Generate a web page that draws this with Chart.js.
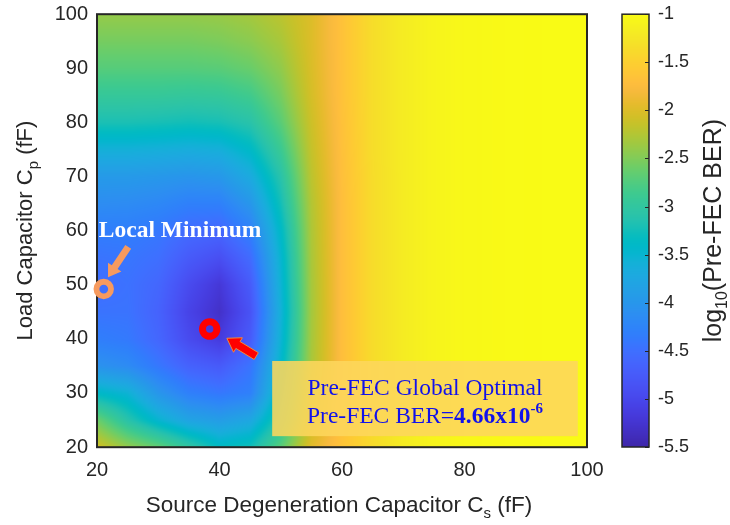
<!DOCTYPE html>
<html>
<head>
<meta charset="utf-8">
<script src="https://cdn.jsdelivr.net/npm/chart.js@4.4.0/dist/chart.umd.min.js"></script>
<style>
  html, body { margin: 0; padding: 0; background: #fff; }
</style>
</head>
<body>
<canvas id="ber" width="730" height="525"></canvas>
<script>
// sweep grid: source degeneration capacitor Cs (columns) and load capacitor Cp (rows, top row first)
const sourceCap = [20, 25, 30, 35, 40, 45, 50, 55, 60, 65, 70, 75, 80, 85, 90, 95, 100];
const loadCap = [100, 95, 90, 85, 80, 75, 70, 65, 60, 55, 50, 45, 40, 35, 30, 25, 20];

// log10(pre-FEC BER) for every (Cp, Cs) point
const log10Ber = [
  [-2.40, -2.40, -2.40, -2.40, -2.38, -2.32, -2.20, -2.00, -1.66, -1.35, -1.18, -1.08, -1.04, -1.02, -1.01, -1.00, -1.00],
  [-2.55, -2.55, -2.55, -2.55, -2.52, -2.45, -2.30, -2.00, -1.66, -1.35, -1.18, -1.08, -1.04, -1.02, -1.01, -1.00, -1.00],
  [-2.72, -2.72, -2.72, -2.72, -2.70, -2.62, -2.42, -2.02, -1.66, -1.35, -1.18, -1.08, -1.04, -1.02, -1.01, -1.00, -1.00],
  [-2.95, -2.95, -2.95, -2.97, -2.95, -2.85, -2.55, -2.05, -1.66, -1.35, -1.18, -1.08, -1.04, -1.02, -1.01, -1.00, -1.00],
  [-3.20, -3.20, -3.22, -3.25, -3.22, -3.10, -2.70, -2.10, -1.67, -1.35, -1.18, -1.08, -1.04, -1.02, -1.01, -1.00, -1.00],
  [-3.60, -3.60, -3.62, -3.65, -3.62, -3.40, -2.90, -2.15, -1.68, -1.35, -1.18, -1.08, -1.04, -1.02, -1.01, -1.00, -1.00],
  [-3.95, -3.95, -3.98, -4.02, -3.98, -3.70, -3.10, -2.20, -1.69, -1.36, -1.18, -1.08, -1.04, -1.02, -1.01, -1.00, -1.00],
  [-4.13, -4.15, -4.20, -4.30, -4.30, -4.00, -3.25, -2.25, -1.70, -1.36, -1.18, -1.08, -1.04, -1.02, -1.01, -1.00, -1.00],
  [-4.33, -4.33, -4.40, -4.55, -4.60, -4.30, -3.40, -2.28, -1.70, -1.36, -1.18, -1.08, -1.04, -1.02, -1.01, -1.00, -1.00],
  [-4.45, -4.42, -4.50, -4.75, -4.90, -4.55, -3.50, -2.30, -1.70, -1.36, -1.18, -1.08, -1.04, -1.02, -1.01, -1.00, -1.00],
  [-4.52, -4.47, -4.60, -4.95, -5.20, -4.75, -3.55, -2.32, -1.70, -1.36, -1.18, -1.08, -1.04, -1.02, -1.01, -1.00, -1.00],
  [-4.45, -4.45, -4.65, -5.05, -5.30, -4.85, -3.60, -2.33, -1.70, -1.36, -1.18, -1.08, -1.04, -1.02, -1.01, -1.00, -1.00],
  [-4.32, -4.38, -4.60, -4.95, -5.15, -4.75, -3.55, -2.32, -1.70, -1.36, -1.18, -1.08, -1.04, -1.02, -1.01, -1.00, -1.00],
  [-4.05, -4.15, -4.40, -4.65, -4.75, -4.45, -3.45, -2.30, -1.70, -1.36, -1.18, -1.08, -1.04, -1.02, -1.01, -1.00, -1.00],
  [-3.40, -3.55, -4.00, -4.30, -4.40, -4.30, -3.30, -2.22, -1.69, -1.36, -1.18, -1.08, -1.04, -1.02, -1.01, -1.00, -1.00],
  [-2.60, -3.10, -3.50, -3.80, -3.90, -3.75, -3.10, -2.12, -1.67, -1.36, -1.18, -1.08, -1.04, -1.02, -1.01, -1.00, -1.00],
  [-2.07, -2.40, -2.65, -3.00, -3.35, -3.25, -2.70, -1.95, -1.63, -1.38, -1.18, -1.08, -1.04, -1.02, -1.01, -1.00, -1.00]
];

const xTicks = [20, 40, 60, 80, 100];
const yTicks = [20, 30, 40, 50, 60, 70, 80, 90, 100];
const cbTicks = [-5.5, -5, -4.5, -4, -3.5, -3, -2.5, -2, -1.5, -1];

// marked operating points
const globalOpt = { cs: 38.4, cp: 41.8, ber: 4.66e-6 };
const localMin = { cs: 21.1, cp: 49.2 };

// annotation anchors, in fF
const localLabelAt = { cs: 20.3, cp: 58.8 };
const orangeArrow = { from: { cs: 25.1, cp: 57.0 }, to: { cs: 21.8, cp: 51.4 } };
const redArrow = { from: { cs: 46.0, cp: 36.8 }, to: { cs: 41.2, cp: 40.1 } };
const noteBox = { cs0: 48.6, cs1: 98.5, cp0: 22.0, cp1: 35.9 };

// MATLAB parula, 64 steps
const PARULA = [
  [0.2422,0.1504,0.6603],[0.2504,0.1650,0.7076],[0.2578,0.1818,0.7511],[0.2647,0.1978,0.7952],
  [0.2706,0.2147,0.8364],[0.2751,0.2342,0.8710],[0.2783,0.2559,0.8991],[0.2803,0.2782,0.9221],
  [0.2813,0.3006,0.9414],[0.2810,0.3228,0.9579],[0.2795,0.3447,0.9717],[0.2760,0.3667,0.9829],
  [0.2699,0.3892,0.9906],[0.2602,0.4123,0.9952],[0.2440,0.4358,0.9988],[0.2206,0.4603,0.9973],
  [0.1963,0.4847,0.9892],[0.1834,0.5074,0.9798],[0.1786,0.5289,0.9682],[0.1764,0.5499,0.9520],
  [0.1687,0.5703,0.9359],[0.1540,0.5902,0.9218],[0.1460,0.6091,0.9079],[0.1380,0.6276,0.8973],
  [0.1248,0.6459,0.8883],[0.1113,0.6635,0.8763],[0.0952,0.6798,0.8598],[0.0689,0.6948,0.8394],
  [0.0297,0.7082,0.8163],[0.0036,0.7203,0.7917],[0.0067,0.7312,0.7660],[0.0433,0.7411,0.7394],
  [0.0964,0.7500,0.7120],[0.1408,0.7584,0.6842],[0.1717,0.7670,0.6554],[0.1938,0.7758,0.6251],
  [0.2161,0.7843,0.5923],[0.2470,0.7918,0.5567],[0.2906,0.7973,0.5188],[0.3406,0.8008,0.4789],
  [0.3909,0.8029,0.4354],[0.4456,0.8024,0.3909],[0.5044,0.7993,0.3480],[0.5616,0.7942,0.3045],
  [0.6174,0.7876,0.2612],[0.6720,0.7793,0.2227],[0.7242,0.7698,0.1910],[0.7738,0.7598,0.1646],
  [0.8203,0.7498,0.1535],[0.8634,0.7406,0.1596],[0.9035,0.7330,0.1774],[0.9393,0.7288,0.2100],
  [0.9728,0.7298,0.2394],[0.9956,0.7434,0.2371],[0.9970,0.7659,0.2199],[0.9952,0.7893,0.2028],
  [0.9892,0.8136,0.1885],[0.9786,0.8386,0.1766],[0.9676,0.8639,0.1643],[0.9610,0.8890,0.1537],
  [0.9597,0.9135,0.1423],[0.9628,0.9373,0.1265],[0.9691,0.9606,0.1064],[0.9769,0.9839,0.0805]
];
const cbMin = cbTicks[0], cbMax = cbTicks[cbTicks.length - 1];

const SANS = '"Liberation Sans", Arial, sans-serif';
const SERIF = '"Liberation Serif", "Times New Roman", serif';
const INK = '#262626';

function parula(v) {
  let t = (v - cbMin) / (cbMax - cbMin);
  t = Math.min(1, Math.max(0, t)) * (PARULA.length - 1);
  const i = Math.min(Math.floor(t), PARULA.length - 2), f = t - i;
  const a = PARULA[i], b = PARULA[i + 1];
  return [0, 1, 2].map(k => Math.round(255 * (a[k] + (b[k] - a[k]) * f)));
}

// index + fraction of v inside a monotone axis array
function locate(arr, v) {
  const asc = arr[arr.length - 1] > arr[0];
  for (let i = 0; i < arr.length - 1; i++) {
    const lo = arr[i], hi = arr[i + 1];
    if ((asc && v <= hi) || (!asc && v >= hi)) {
      return [i, Math.min(1, Math.max(0, (v - lo) / (hi - lo)))];
    }
  }
  return [arr.length - 2, 1];
}

function berAt(cs, cp) {
  const [i, fx] = locate(sourceCap, cs);
  const [j, fy] = locate(loadCap, cp);
  const top = log10Ber[j][i] + (log10Ber[j][i + 1] - log10Ber[j][i]) * fx;
  const bot = log10Ber[j + 1][i] + (log10Ber[j + 1][i + 1] - log10Ber[j + 1][i]) * fx;
  return top + (bot - top) * fy;
}

// rotated / plain text built from runs so subscripts can be mixed in
function drawRuns(ctx, runs, cx, cy, angle, align) {
  ctx.save();
  ctx.translate(cx, cy);
  ctx.rotate(angle);
  ctx.textAlign = 'left';
  ctx.textBaseline = 'alphabetic';
  let total = 0;
  runs.forEach(r => { ctx.font = r.font; r.w = ctx.measureText(r.text).width; total += r.w; });
  let x = align === 'left' ? 0 : -total / 2;
  runs.forEach(r => {
    ctx.font = r.font;
    ctx.fillStyle = r.color || INK;
    ctx.fillText(r.text, x, r.dy || 0);
    x += r.w;
  });
  ctx.restore();
}

function drawArrow(ctx, x0, y0, x1, y1, shaft, head, headLen, fill, stroke) {
  const len = Math.hypot(x1 - x0, y1 - y0);
  const ux = (x1 - x0) / len, uy = (y1 - y0) / len;
  const nx = -uy, ny = ux;
  const bx = x1 - ux * headLen, by = y1 - uy * headLen;
  ctx.beginPath();
  ctx.moveTo(x0 + nx * shaft, y0 + ny * shaft);
  ctx.lineTo(bx + nx * shaft, by + ny * shaft);
  ctx.lineTo(bx + nx * head, by + ny * head);
  ctx.lineTo(x1, y1);
  ctx.lineTo(bx - nx * head, by - ny * head);
  ctx.lineTo(bx - nx * shaft, by - ny * shaft);
  ctx.lineTo(x0 - nx * shaft, y0 - ny * shaft);
  ctx.closePath();
  ctx.fillStyle = fill;
  ctx.fill();
  if (stroke) { ctx.strokeStyle = stroke; ctx.lineWidth = 1; ctx.stroke(); }
}

const heatmapPlugin = {
  id: 'heatmap',
  beforeDatasetsDraw(chart) {
    const { ctx, chartArea: a, scales: { x, y, cb } } = chart;
    const w = Math.round(a.right - a.left), h = Math.round(a.bottom - a.top);
    const off = document.createElement('canvas');
    off.width = w; off.height = h;
    const octx = off.getContext('2d');
    const img = octx.createImageData(w, h);
    for (let j = 0; j < h; j++) {
      const cp = y.getValueForPixel(a.top + j + 0.5);
      for (let i = 0; i < w; i++) {
        const cs = x.getValueForPixel(a.left + i + 0.5);
        const c = parula(berAt(cs, cp));
        const p = (j * w + i) * 4;
        img.data[p] = c[0]; img.data[p + 1] = c[1]; img.data[p + 2] = c[2]; img.data[p + 3] = 255;
      }
    }
    octx.putImageData(img, 0, 0);
    ctx.drawImage(off, a.left, a.top);

    // plot frame
    ctx.save();
    ctx.strokeStyle = INK;
    ctx.lineWidth = 2;
    ctx.strokeRect(a.left, a.top, w, h);

    // colorbar
    const bx = a.right + 35, bw = 27;
    const top = cb.getPixelForValue(cbMax), bot = cb.getPixelForValue(cbMin);
    for (let py = Math.floor(top); py < Math.ceil(bot); py++) {
      const c = parula(cb.getValueForPixel(py + 0.5));
      ctx.fillStyle = `rgb(${c[0]},${c[1]},${c[2]})`;
      ctx.fillRect(bx, py, bw, 1);
    }
    ctx.lineWidth = 1.5;
    ctx.strokeRect(bx, top, bw, bot - top);
    ctx.lineWidth = 1;
    cbTicks.forEach(v => {
      const py = Math.round(cb.getPixelForValue(v)) + 0.5;
      ctx.beginPath();
      ctx.moveTo(bx + bw - 4, py);
      ctx.lineTo(bx + bw, py);
      ctx.stroke();
    });
    ctx.restore();

    // axis titles
    const midY = (a.top + a.bottom) / 2;
    drawRuns(ctx, [
      { text: 'Source Degeneration Capacitor C', font: `22.5px ${SANS}` },
      { text: 's', font: `15px ${SANS}`, dy: 6 },
      { text: ' (fF)', font: `22.5px ${SANS}` }
    ], (a.left + a.right) / 2 - 3, 512, 0);
    drawRuns(ctx, [
      { text: 'Load Capacitor C', font: `22px ${SANS}` },
      { text: 'p', font: `15px ${SANS}`, dy: 6 },
      { text: ' (fF)', font: `22px ${SANS}` }
    ], 32, midY, -Math.PI / 2);
    drawRuns(ctx, [
      { text: 'log', font: `25px ${SANS}` },
      { text: '10', font: `16px ${SANS}`, dy: 6 },
      { text: '(Pre-FEC BER)', font: `25px ${SANS}` }
    ], 721, midY, -Math.PI / 2);
  }
};

const notePlugin = {
  id: 'notes',
  afterDatasetsDraw(chart) {
    const { ctx, scales: { x, y } } = chart;
    const px = p => [x.getPixelForValue(p.cs), y.getPixelForValue(p.cp)];

    const [ox0, oy0] = px(orangeArrow.from), [ox1, oy1] = px(orangeArrow.to);
    drawArrow(ctx, ox0, oy0, ox1, oy1, 3.5, 8, 12, '#f79a5e');
    const [rx0, ry0] = px(redArrow.from), [rx1, ry1] = px(redArrow.to);
    drawArrow(ctx, rx0, ry0, rx1, ry1, 4, 8.5, 13, '#ff0000', '#f08a3c');

    const [lx, ly] = px(localLabelAt);
    drawRuns(ctx, [{ text: 'Local Minimum', font: `bold 23.5px ${SERIF}`, color: '#ffffff' }], lx, ly, 0, 'left');

    const bx0 = x.getPixelForValue(noteBox.cs0), bx1 = x.getPixelForValue(noteBox.cs1);
    const by0 = y.getPixelForValue(noteBox.cp1), by1 = y.getPixelForValue(noteBox.cp0);
    ctx.save();
    ctx.fillStyle = 'rgba(253, 214, 92, 0.88)';
    ctx.fillRect(bx0, by0, bx1 - bx0, by1 - by0);
    ctx.restore();

    const exp = Math.floor(Math.log10(globalOpt.ber));
    const mant = (globalOpt.ber / Math.pow(10, exp)).toFixed(2);
    const cx = (bx0 + bx1) / 2;
    const blue = '#1212ea';
    drawRuns(ctx, [{ text: 'Pre-FEC Global Optimal', font: `23.5px ${SERIF}`, color: blue }], cx, by0 + 34, 0);
    drawRuns(ctx, [
      { text: 'Pre-FEC BER=', font: `23.5px ${SERIF}`, color: blue },
      { text: `${mant}x10`, font: `bold 23.5px ${SERIF}`, color: blue },
      { text: String(exp), font: `bold 15px ${SERIF}`, color: blue, dy: -10 }
    ], cx, by0 + 62, 0);
  }
};

const tickFont = { family: SANS, size: 20 };

// fixed axis boxes so the plot area lands at 97..587 x 14..447
function fitVertical(width) {
  return s => { s.width = width; s.paddingTop = 0; s.paddingBottom = 0; };
}

new Chart(document.getElementById('ber'), {
  type: 'scatter',
  data: {
    datasets: [
      {
        label: 'Local Minimum',
        data: [{ x: localMin.cs, y: localMin.cp }],
        pointRadius: 7.3,
        pointBorderWidth: 5.8,
        borderColor: '#f79a5e',
        backgroundColor: 'rgba(0,0,0,0)',
        clip: false
      },
      {
        label: 'Global Optimal',
        data: [{ x: globalOpt.cs, y: globalOpt.cp }],
        pointRadius: 7.2,
        pointBorderWidth: 7,
        borderColor: '#ff0000',
        backgroundColor: 'rgba(0,0,0,0)',
        clip: false
      }
    ]
  },
  options: {
    responsive: false,
    animation: false,
    events: [],
    layout: { padding: { top: 14, left: 0, right: 0, bottom: 0 } },
    plugins: { legend: { display: false }, tooltip: { enabled: false } },
    scales: {
      x: {
        type: 'linear', min: 20, max: 100,
        afterBuildTicks: s => { s.ticks = xTicks.map(v => ({ value: v })); },
        ticks: { padding: 11, color: INK, font: tickFont },
        grid: { display: false, drawTicks: false },
        border: { display: false },
        afterFit: s => { s.height = 78; s.paddingLeft = 0; s.paddingRight = 0; }
      },
      y: {
        type: 'linear', min: 20, max: 100,
        afterBuildTicks: s => { s.ticks = yTicks.map(v => ({ value: v })); },
        ticks: { padding: 9, color: INK, font: tickFont },
        grid: { display: false, drawTicks: false },
        border: { display: false },
        afterFit: fitVertical(97)
      },
      cb: {
        type: 'linear', position: 'right', min: cbMin, max: cbMax,
        afterBuildTicks: s => { s.ticks = cbTicks.map(v => ({ value: v })); },
        ticks: { padding: 71, color: INK, font: { family: SANS, size: 18 }, callback: v => String(v) },
        grid: { display: false, drawTicks: false },
        border: { display: false },
        afterFit: fitVertical(143)
      }
    }
  },
  plugins: [heatmapPlugin, notePlugin]
});
</script>
</body>
</html>
